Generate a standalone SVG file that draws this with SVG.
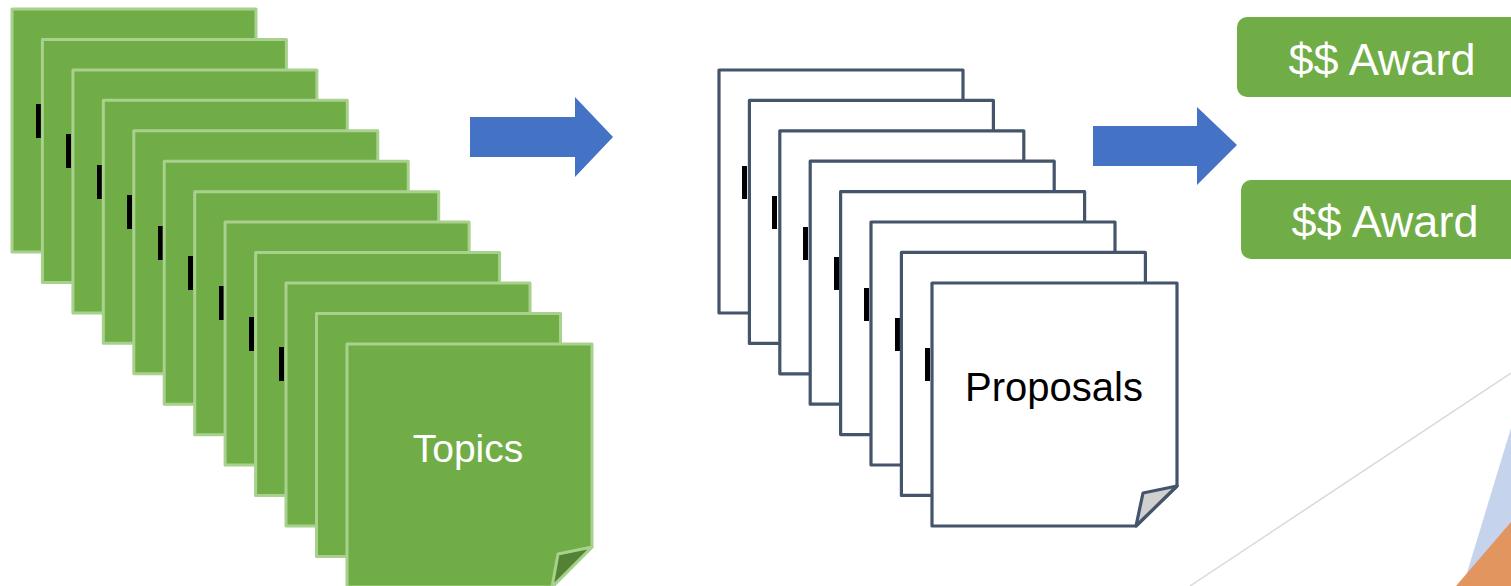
<svg xmlns="http://www.w3.org/2000/svg" width="1511" height="586" viewBox="0 0 1511 586">
<style>
.g{fill:#70ad47;stroke:#a9d18e;stroke-width:3;stroke-linejoin:round}
.gf{fill:#548235;stroke:#a9d18e;stroke-width:3;stroke-linejoin:round}
.w{fill:#ffffff;stroke:#44546a;stroke-width:3.2;stroke-linejoin:round}
.wf{fill:#d0d0d0;stroke:#44546a;stroke-width:3.2;stroke-linejoin:round}
.m{fill:#000000}
.arrow{fill:#4472c4}
.award{fill:#70ad47}
.t{font-family:"Liberation Sans",Arial,sans-serif;text-anchor:middle}
</style>
<rect x="0" y="0" width="1511" height="586" fill="#ffffff"/>
<g id="decor">
<line x1="1190" y1="586" x2="1511" y2="373" stroke="#d9d9d9" stroke-width="1.5"/>
<polygon points="1511,428 1463,586 1511,586" fill="#c5d3ec"/>
<polygon points="1511,522 1456,586 1511,586" fill="#e2955f"/>
</g>
<g id="topics">
<rect class="g" x="12" y="9" width="244" height="243"/>
<rect class="m" x="36" y="104" width="5" height="34"/>
<rect class="g" x="42.4" y="39.4" width="244" height="243"/>
<rect class="m" x="66" y="134" width="5" height="34"/>
<rect class="g" x="72.9" y="69.9" width="244" height="243"/>
<rect class="m" x="97" y="165" width="5" height="34"/>
<rect class="g" x="103.3" y="100.3" width="244" height="243"/>
<rect class="m" x="127" y="195" width="5" height="34"/>
<rect class="g" x="133.8" y="130.8" width="244" height="243"/>
<rect class="m" x="158" y="226" width="5" height="34"/>
<rect class="g" x="164.2" y="161.2" width="244" height="243"/>
<rect class="m" x="188" y="256" width="5" height="34"/>
<rect class="g" x="194.7" y="191.7" width="244" height="243"/>
<rect class="m" x="219" y="286" width="5" height="34"/>
<rect class="g" x="225.1" y="222.1" width="244" height="243"/>
<rect class="m" x="249" y="317" width="5" height="34"/>
<rect class="g" x="255.6" y="252.6" width="244" height="243"/>
<rect class="m" x="279" y="347" width="5" height="34"/>
<rect class="g" x="286" y="283" width="244" height="243"/>
<rect class="g" x="316.5" y="313.5" width="244" height="243"/>
<path class="g" d="M347,344 H592 V547 L552,587 H347 Z"/>
<polygon class="gf" points="592,547 558,554 552,587"/>
<text class="t" x="468" y="462" font-size="39" fill="#ffffff">Topics</text>
</g>
<g id="proposals">
<rect class="w" x="719" y="70" width="244" height="243"/>
<rect class="m" x="742" y="166" width="5" height="33"/>
<rect class="w" x="749.4" y="100.4" width="244" height="243"/>
<rect class="m" x="772" y="196" width="5" height="33"/>
<rect class="w" x="779.8" y="130.8" width="244" height="243"/>
<rect class="m" x="803" y="227" width="5" height="33"/>
<rect class="w" x="810.2" y="161.2" width="244" height="243"/>
<rect class="m" x="834" y="257" width="5" height="33"/>
<rect class="w" x="840.6" y="191.6" width="244" height="243"/>
<rect class="m" x="864" y="288" width="5" height="33"/>
<rect class="w" x="871" y="222" width="244" height="243"/>
<rect class="m" x="895" y="318" width="5" height="33"/>
<rect class="w" x="901.4" y="252.4" width="244" height="243"/>
<rect class="m" x="925" y="348" width="5" height="33"/>
<path class="w" d="M932,283 H1177 V486 L1136,526 H932 Z"/>
<polygon class="wf" points="1177,486 1143,493 1136,526"/>
<text class="t" x="1054" y="401" font-size="40" fill="#000000">Proposals</text>
</g>
<g id="award1">
<rect class="award" x="1237" y="17" width="290" height="80" rx="10"/>
<text class="t" x="1382" y="75" font-size="45" fill="#ffffff">$$ Award</text>
</g>
<g id="award2">
<rect class="award" x="1241" y="180" width="290" height="79" rx="10"/>
<text class="t" x="1385" y="237" font-size="45" fill="#ffffff">$$ Award</text>
</g>
<g id="connectors">
<polygon class="arrow" points="470,117 575,117 575,97 613,137 575,177 575,157 470,157"/>
<polygon class="arrow" points="1093,126 1197,126 1197,107 1237,145 1197,185 1197,166 1093,166"/>
</g>
</svg>
